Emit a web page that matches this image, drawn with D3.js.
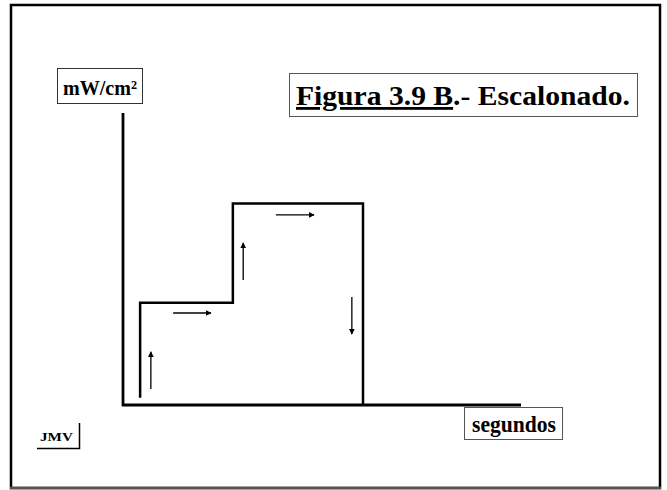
<!DOCTYPE html>
<html>
<head>
<meta charset="utf-8">
<script src="https://cdn.jsdelivr.net/npm/d3@7"></script>
<style>
  html, body { margin: 0; padding: 0; background: #fff; }
  svg { display: block; }
  text { font-family: "Liberation Serif", "Times New Roman", serif; font-weight: bold; fill: #000; }
</style>
</head>
<body>
<div id="chart"></div>
<script>
// step pattern (time in % of axis, intensity in % of axis)
const stepTimes = [4.3, 27.6, 60.3];
const stepLevels = [2.5, 35, 69, 0];

// direction arrows: start / end points
const arrowX1 = [7.0, 12.6, 30.2, 38.4, 57.5];
const arrowY1 = [5.5, 31.5, 42.8, 65.1, 37.0];
const arrowX2 = [7.0, 22.1, 30.2, 48.0, 57.5];
const arrowY2 = [18.2, 31.5, 55.5, 65.1, 24.3];

const yLabel = "mW/cm²";
const xLabel = "segundos";
const titleMain = "Figura 3.9 B";
const titleRest = ".- Escalonado.";
const signature = "JMV";

const width = 667, height = 490;

const svg = d3.select("#chart").append("svg")
    .attr("width", width)
    .attr("height", height);

const x = d3.scaleLinear().domain([0, 100]).range([123, 521]);
const y = d3.scaleLinear().domain([0, 100]).range([405, 113]);

// slide frame
svg.append("rect")
    .attr("x", 11).attr("y", 5)
    .attr("width", 649).attr("height", 483)
    .attr("fill", "none")
    .attr("stroke", "#000")
    .attr("stroke-width", 2.5);
svg.append("line")
    .attr("x1", 10).attr("x2", 661)
    .attr("y1", 488).attr("y2", 488)
    .attr("stroke", "#555")
    .attr("stroke-width", 2.5);

svg.append("defs").append("marker")
    .attr("id", "head")
    .attr("viewBox", "0 0 10 10")
    .attr("refX", 9).attr("refY", 5)
    .attr("markerWidth", 6).attr("markerHeight", 6)
    .attr("markerUnits", "userSpaceOnUse")
    .attr("orient", "auto")
    .append("path")
    .attr("d", "M0,0L10,5L0,10z")
    .attr("fill", "#000");

// axes
svg.append("line")
    .attr("x1", x(0)).attr("x2", x(0))
    .attr("y1", y(100)).attr("y2", y(0) + 1)
    .attr("stroke", "#000").attr("stroke-width", 2.8);
svg.append("line")
    .attr("x1", x(0) - 1).attr("x2", x(100))
    .attr("y1", y(0)).attr("y2", y(0))
    .attr("stroke", "#000").attr("stroke-width", 2.8);

// step line
const pts = [
    [stepTimes[0], stepLevels[0]],
    [stepTimes[0], stepLevels[1]],
    [stepTimes[1], stepLevels[1]],
    [stepTimes[1], stepLevels[2]],
    [stepTimes[2], stepLevels[2]],
    [stepTimes[2], stepLevels[3]]
];
svg.append("path")
    .attr("d", d3.line().x(d => x(d[0])).y(d => y(d[1]))(pts))
    .attr("fill", "none")
    .attr("stroke", "#000")
    .attr("stroke-width", 2.5)
    .attr("stroke-linejoin", "miter");

// arrows
svg.append("g").selectAll("line")
    .data(arrowX1.map((v, i) => ({ x1: v, y1: arrowY1[i], x2: arrowX2[i], y2: arrowY2[i] })))
    .join("line")
    .attr("x1", d => x(d.x1)).attr("y1", d => y(d.y1))
    .attr("x2", d => x(d.x2)).attr("y2", d => y(d.y2))
    .attr("stroke", "#000")
    .attr("stroke-width", 1.3)
    .attr("marker-end", "url(#head)");

// y label box
svg.append("rect")
    .attr("x", 57.5).attr("y", 68.5).attr("width", 85).attr("height", 35)
    .attr("fill", "#fff").attr("stroke", "#333").attr("stroke-width", 1);
svg.append("text")
    .attr("x", 63).attr("y", 95)
    .attr("textLength", 74)
    .attr("lengthAdjust", "spacingAndGlyphs")
    .style("font-size", "22px")
    .text(yLabel);

// title box
svg.append("rect")
    .attr("x", 289.5).attr("y", 73.5).attr("width", 348).attr("height", 43)
    .attr("fill", "#fff").attr("stroke", "#555").attr("stroke-width", 1);
const tt = svg.append("text")
    .attr("x", 296).attr("y", 105)
    .attr("textLength", 334)
    .attr("lengthAdjust", "spacingAndGlyphs")
    .style("font-size", "28px");
tt.append("tspan").style("text-decoration", "underline").text(titleMain);
tt.append("tspan").text(titleRest);

// x label box
svg.append("rect")
    .attr("x", 464.5).attr("y", 407.5).attr("width", 98).attr("height", 32)
    .attr("fill", "#fff").attr("stroke", "#555").attr("stroke-width", 1);
svg.append("text")
    .attr("x", 472).attr("y", 432)
    .attr("textLength", 84)
    .attr("lengthAdjust", "spacingAndGlyphs")
    .style("font-size", "23px")
    .text(xLabel);

// signature
svg.append("text")
    .attr("x", 40).attr("y", 441)
    .attr("textLength", 33)
    .attr("lengthAdjust", "spacingAndGlyphs")
    .style("font-size", "13px")
    .text(signature);
svg.append("path")
    .attr("d", "M37,448.5H79.5V423")
    .attr("fill", "none")
    .attr("stroke", "#000")
    .attr("stroke-width", 1.5);
</script>
</body>
</html>
